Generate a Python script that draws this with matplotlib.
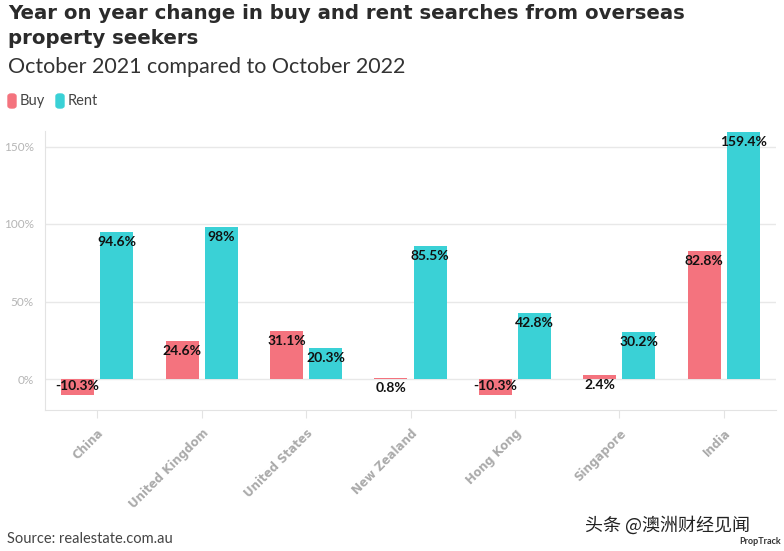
import matplotlib
matplotlib.use("Agg")
import matplotlib.pyplot as plt
from matplotlib.patches import FancyBboxPatch
import numpy as np

categories = ["China", "United Kingdom", "United States", "New Zealand", "Hong Kong", "Singapore", "India"]
buy = [-10.3, 24.6, 31.1, 0.8, -10.3, 2.4, 82.8]
rent = [94.6, 98.0, 20.3, 85.5, 42.8, 30.2, 159.4]
buy_labels = ["-10.3%", "24.6%", "31.1%", "0.8%", "-10.3%", "2.4%", "82.8%"]
rent_labels = ["94.6%", "98%", "20.3%", "85.5%", "42.8%", "30.2%", "159.4%"]
yticks = [0, 50, 100, 150]
ytick_labels = ["0%", "50%", "100%", "150%"]

BUY_C = "#F4737E"
RENT_C = "#3AD1D6"
FONT = ["Lato", "DejaVu Sans"]
WIDE = ["DejaVu Sans"]

fig = plt.figure(figsize=(7.84, 5.51), dpi=100)
ax = fig.add_axes([45/784, 1-410/551, (776-45)/784, (410-131)/551])

x = np.arange(len(categories))
w = 0.316
off = 0.187
ax.bar(x - off, buy, w, color=BUY_C, zorder=3)
ax.bar(x + off, rent, w, color=RENT_C, zorder=3)

for xs, vals, labs in [(x - off, buy, buy_labels), (x + off, rent, rent_labels)]:
    for xi, v, lab in zip(xs, vals, labs):
        dy = -10 if v >= 0 else 9
        ax.annotate(lab, (xi, v), xytext=(0, dy), textcoords="offset pixels",
                    ha="center", va="center", fontsize=10, fontweight="bold",
                    color="#111111", family=FONT, zorder=4)

ax.set_xlim(-0.5, len(categories) - 0.5)
ax.set_ylim(-20, 160)
ax.set_yticks(yticks)
ax.set_yticklabels(ytick_labels, family=FONT, fontsize=8.5, color="#b5b5b5")
ax.yaxis.grid(True, color="#e8e8e8", linewidth=1, zorder=0)
ax.tick_params(axis="y", length=0, pad=8)
ax.set_xticks(x)
ax.set_xticklabels(categories, rotation=45, ha="right", rotation_mode="anchor",
                   family=WIDE, fontsize=8.5, fontweight="bold", color="#aaaaaa")
ax.tick_params(axis="x", length=6, color="#e3e3e3", pad=6)
for s in ["top", "right"]:
    ax.spines[s].set_visible(False)
for s in ["left", "bottom"]:
    ax.spines[s].set_color("#e3e3e3")

fig.text(8/784, 1-4/551, "Year on year change in buy and rent searches from overseas\nproperty seekers",
         family=WIDE, fontsize=14.2, fontweight="bold", color="#2b2b2b", va="top", linespacing=1.4)
fig.text(8/784, 1-73/551, "October 2021 compared to October 2022", family=FONT,
         fontsize=15.5, color="#333333", va="baseline")

# legend
for lx, col, lab in [(8, BUY_C, "Buy"), (56, RENT_C, "Rent")]:
    p = FancyBboxPatch((lx/784, 1-108/551), 8/784, 14/551,
                       boxstyle="round,pad=0,rounding_size=0.004",
                       transform=fig.transFigure, color=col)
    fig.patches.append(p)
    fig.text((lx+12)/784, 1-101/551, lab, family=FONT, fontsize=10.5, color="#444444",
             va="center")

fig.text(7/784, 1-539/551, "Source: realestate.com.au", family=FONT, fontsize=10.5,
         color="#444444", va="center")
fig.text(585/784, 1-525/551, "头条 @澳洲财经见闻", family=["Noto Sans CJK SC", "DejaVu Sans"],
         fontsize=13, color="#222222", va="center")
fig.text(781/784, 1-541/551, "PropTrack", family=FONT, fontsize=6.5, fontweight="bold",
         color="#333333", va="center", ha="right")

fig.savefig("out.png", dpi=100, facecolor="white")
